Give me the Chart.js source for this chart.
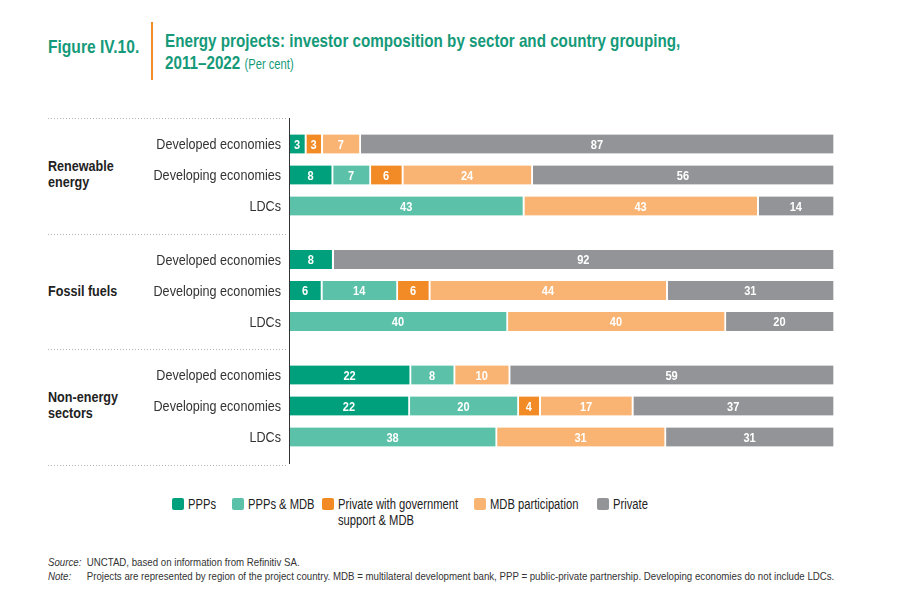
<!DOCTYPE html>
<html>
<head>
<meta charset="utf-8">
<script src="https://cdn.jsdelivr.net/npm/chart.js@4.4.1/dist/chart.umd.min.js"></script>
<style>
  body { margin: 0; width: 903px; height: 615px; background: #fff; position: relative; overflow: hidden;
         font-family: "Liberation Sans", Arial, sans-serif; }
  .abs { position: absolute; white-space: nowrap; transform-origin: left top; }
  #fig { left: 48px; top: 36px; font-size: 19px; font-weight: bold; color: #159a79; transform: scaleX(0.82); }
  #bar { left: 151px; top: 22px; width: 2px; height: 58px; background: #f28c28; }
  #title { left: 165px; top: 30px; font-size: 19px; font-weight: bold; color: #159a79; line-height: 22px; transform: scaleX(0.80); }
  #title span { font-size: 14px; font-weight: normal; }
  .grp { left: 48px; font-size: 15px; font-weight: bold; color: #222; line-height: 16px; transform: scaleX(0.84); }
  .lg { position: absolute; top: 497px; line-height: 16px; font-size: 14px; color: #222; }
  .lg i { position: absolute; left: 0; top: 1px; width: 12px; height: 12px; border-radius: 2px; }
  .lg b { font-weight: normal; position: absolute; left: 16px; top: -1px; white-space: nowrap; transform: scaleX(0.8); transform-origin: left top; }
  #notes { left: 48px; top: 555px; font-size: 11px; color: #333; line-height: 14px; transform: scaleX(0.88); }
  #notes em { display: inline-block; width: 44px; }
  #wrap { left: 0; top: 110px; width: 840px; height: 362px; }
</style>
</head>
<body>
<div class="abs" id="fig">Figure IV.10.</div>
<div class="abs" id="bar"></div>
<div class="abs" id="title">Energy projects: investor composition by sector and country grouping,<br>2011–2022 <span>(Per cent)</span></div>

<div class="abs grp" style="top:158px">Renewable<br>energy</div>
<div class="abs grp" style="top:283px">Fossil fuels</div>
<div class="abs grp" style="top:389px">Non-energy<br>sectors</div>

<div class="abs" id="wrap"><canvas id="chart"></canvas></div>

<div id="legend"></div>

<div class="abs" id="notes">
  <div><em>Source:</em>UNCTAD, based on information from Refinitiv SA.</div>
  <div><em>Note:</em>Projects are represented by region of the project country. MDB = multilateral development bank, PPP = public-private partnership. Developing economies do not include LDCs.</div>
</div>

<script>
const groups = ['Renewable energy', 'Fossil fuels', 'Non-energy sectors']
const rowLabels = ['Developed economies', 'Developing economies', 'LDCs']

// one entry per row: 3 rows in each of the 3 groups
const ppps     = [3, 8, null,   8, 6, null,    22, 22, null]
const pppsMdb  = [null, 7, 43,  null, 14, 40,  8, 20, 38]
const privGov  = [3, 6, null,   null, 6, null, null, 4, null]
const mdbPart  = [7, 24, 43,    null, 44, 40,  10, 17, 31]
const priv     = [87, 56, 14,   92, 31, 20,    59, 37, 31]

const seriesNames = ['PPPs', 'PPPs & MDB', 'Private with government\nsupport & MDB', 'MDB participation', 'Private']
const seriesVals = [ppps, pppsMdb, privGov, mdbPart, priv]
const colors = ['#00a07c', '#5cc1a9', '#f28b25', '#f9b474', '#939497']

// layout: row pitch 31, group pitch 115.5, in px-like units on the y scale
const ROW = 31, GRP = 115.5, TOP = 26, YMAX = 346
const rowPos = (i) => TOP + Math.floor(i / 3) * GRP + (i % 3) * ROW
const rowCount = priv.length
const totals = Array.from({ length: rowCount }, (_, i) =>
    seriesVals.reduce((s, arr) => s + (arr[i] || 0), 0))

const datasets = seriesVals.map((vals, k) => ({
    label: seriesNames[k],
    data: vals.map((v, i) => v == null ? null : { x: v / totals[i] * 100, y: rowPos(i) }).filter(d => d),
    raw: vals.filter(v => v != null),
    backgroundColor: colors[k],
    borderColor: '#ffffff',
    borderWidth: { left: 0, right: 2, top: 0, bottom: 0 },
    borderSkipped: false,
    barThickness: 19
}))

const narrowText = (ctx, txt, x, y, sx) => {
    ctx.save()
    ctx.translate(x, y)
    ctx.scale(sx, 1)
    ctx.fillText(txt, 0, 0)
    ctx.restore()
}

// white numbers inside the segments
const labelPlugin = {
    id: 'segLabels',
    afterDatasetsDraw(chart) {
        const ctx = chart.ctx
        ctx.save()
        ctx.fillStyle = '#fff'
        ctx.font = 'bold 13px "Liberation Sans", Arial'
        ctx.textAlign = 'center'
        ctx.textBaseline = 'middle'
        chart.data.datasets.forEach((ds, k) => {
            chart.getDatasetMeta(k).data.forEach((bar, j) => {
                const cx = (bar.x + bar.base) / 2 - 1
                narrowText(ctx, String(ds.raw[j]), cx, bar.y + 1, 0.85)
            })
        })
        ctx.restore()
    }
}

// row labels, axis line and dotted separators
const framePlugin = {
    id: 'frame',
    afterDraw(chart) {
        const ctx = chart.ctx
        const ys = chart.scales.y
        const { left, top, bottom } = chart.chartArea
        ctx.save()
        ctx.fillStyle = '#333'
        ctx.font = '15px "Liberation Sans", Arial'
        ctx.textAlign = 'right'
        ctx.textBaseline = 'middle'
        for (let i = 0; i < rowCount; i++) {
            narrowText(ctx, rowLabels[i % 3], left - 9, ys.getPixelForValue(rowPos(i)) + 1, 0.84)
        }
        ctx.strokeStyle = '#333'
        ctx.lineWidth = 1
        ctx.beginPath()
        ctx.moveTo(left - 0.5, top)
        ctx.lineTo(left - 0.5, bottom)
        ctx.stroke()
        ctx.strokeStyle = '#b5b5b5'
        ctx.setLineDash([1, 2])
        for (let g = 0; g <= groups.length; g++) {
            const y = Math.round(ys.getPixelForValue(g * GRP)) + 0.5
            ctx.beginPath()
            ctx.moveTo(48, y)
            ctx.lineTo(left - 3, y)
            ctx.stroke()
        }
        ctx.restore()
    }
}

const chart = new Chart(document.getElementById('chart'), {
    type: 'bar',
    data: { datasets },
    options: {
        indexAxis: 'y',
        responsive: true,
        maintainAspectRatio: false,
        animation: false,
        layout: { padding: { top: 8, bottom: 8, left: 290, right: 5 } },
        plugins: { legend: { display: false }, tooltip: { enabled: false } },
        scales: {
            x: { type: 'linear', stacked: true, min: 0, max: 100, display: false },
            y: { type: 'linear', stacked: true, reverse: true, offset: false, min: 0, max: YMAX, display: false }
        }
    },
    plugins: [labelPlugin, framePlugin]
})

// legend
const legendX = [172, 232, 322, 474, 597]
document.getElementById('legend').innerHTML = seriesNames.map((n, k) => `
    <div class="lg" style="left:${legendX[k]}px">
      <i style="background:${colors[k]}"></i><b>${n.replace('\n', '<br>')}</b>
    </div>`).join('')
</script>
</body>
</html>
